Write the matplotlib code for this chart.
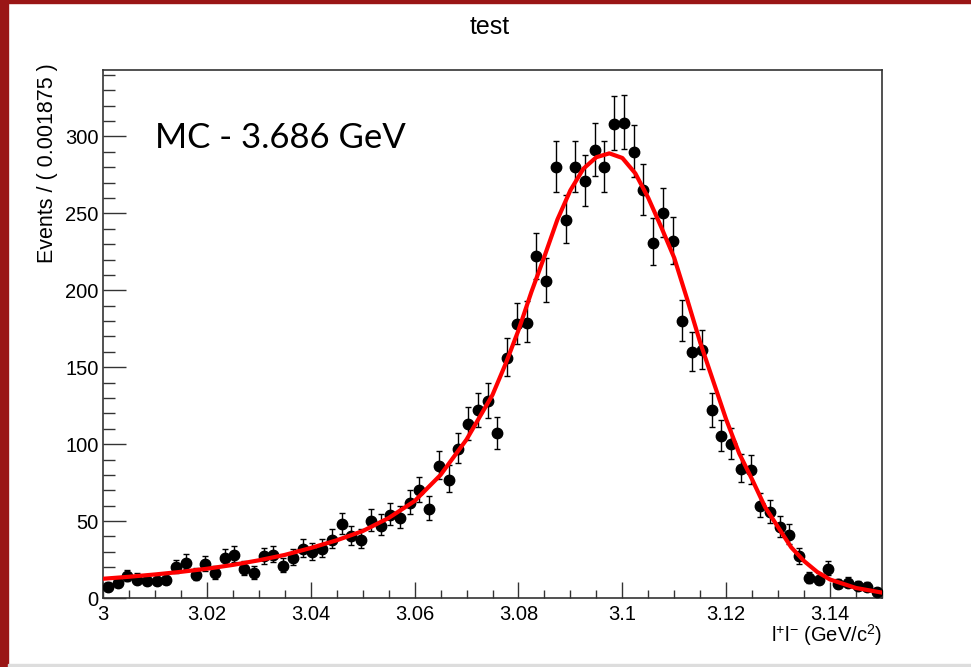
import numpy as np
import matplotlib
matplotlib.use('Agg')
import matplotlib.pyplot as plt
from matplotlib.ticker import MultipleLocator, FuncFormatter
from matplotlib.patches import Rectangle

###############################################################################

# Binning of the histogram (RooFit frame)
x_lo, x_hi, n_bins = 3.0, 3.15, 80

# Events per bin
counts = [7, 10, 14, 12, 11, 11, 12, 20, 23, 15,
          22, 16, 26, 28, 19, 16, 27, 28, 21, 26,
          32, 30, 32, 38, 48, 40, 38, 50, 47, 54,
          52, 62, 70, 58, 86, 77, 97, 113, 122, 128,
          107, 156, 178, 179, 222, 206, 280, 246, 280, 271,
          291, 280, 308, 309, 290, 265, 231, 250, 232, 180,
          160, 161, 122, 105, 100, 84, 83, 60, 56, 46,
          41, 27, 13, 12, 19, 9, 10, 8, 7, 4]

# Fit curve
fit_x = [3.000, 3.005, 3.010, 3.015, 3.020, 3.025, 3.030, 3.035, 3.040,
         3.045, 3.050, 3.055, 3.060, 3.065, 3.070, 3.075, 3.0775, 3.080,
         3.0825, 3.085, 3.0875, 3.090, 3.0925, 3.095, 3.0975, 3.100, 3.1025,
         3.105, 3.1075, 3.110, 3.1125, 3.115, 3.1175, 3.120, 3.1225, 3.125,
         3.1275, 3.130, 3.1325, 3.135, 3.1375, 3.140, 3.145, 3.150]
fit_y = [12.5, 13.8, 15.3, 17, 19, 21.5, 24.5, 28, 32.5,
         37.5, 43.5, 52, 63, 80, 103, 132, 152, 174,
         199, 222, 246, 265, 279, 286.5, 289, 286, 276,
         260, 241, 221, 194, 166, 141, 116, 94, 77,
         59, 46, 33, 24, 17, 12, 6.5, 3.5]

title = 'test'
ylabel = 'Events / ( 0.001875 )'
xlabel = r'l$^{+}$l$^{-}$ (GeV/c$^{2}$)'
note = 'MC - 3.686 GeV'

###############################################################################

if __name__ == '__main__':

    plt.rcParams['font.family'] = ['Liberation Sans', 'DejaVu Sans']
    plt.rcParams['mathtext.fontset'] = 'custom'
    plt.rcParams['mathtext.rm'] = 'Liberation Sans'
    plt.rcParams['mathtext.it'] = 'Liberation Sans'

    fig = plt.figure(figsize=(9.71, 6.67), dpi=100)
    ax = fig.add_axes([103 / 971, 1 - 598 / 667, 779 / 971, 528.5 / 667])

    # Bin centres and Poisson-style asymmetric errors
    edges = np.linspace(x_lo, x_hi, n_bins + 1)
    centres = 0.5 * (edges[:-1] + edges[1:])
    n = np.array(counts, dtype=float)
    err_lo = np.sqrt(n + 0.25) - 0.5
    err_hi = np.sqrt(n + 0.25) + 0.5

    ax.errorbar(centres, n, yerr=[err_lo, err_hi],
                fmt='o', color='k', ms=7.5, elinewidth=1.0,
                capsize=2.5, capthick=1.0, zorder=3)

    # Fit curve drawn on top
    ax.plot(fit_x, fit_y, color='#ff0000', lw=3, zorder=4)

    ax.set_xlim(x_lo, x_hi)
    ax.set_ylim(0, 343.5)

    # ROOT-like ticks: inside, left/bottom only
    ax.xaxis.set_major_locator(MultipleLocator(0.02))
    ax.xaxis.set_minor_locator(MultipleLocator(0.005))
    ax.yaxis.set_major_locator(MultipleLocator(50))
    ax.yaxis.set_minor_locator(MultipleLocator(10))
    ax.xaxis.set_major_formatter(FuncFormatter(lambda v, p: '%g' % round(v, 4)))
    ax.tick_params(axis='x', which='major', direction='in', length=11.5,
                   width=1, color='#333333', labelsize=14.5, pad=5)
    ax.tick_params(axis='x', which='minor', direction='in', length=5.8,
                   width=1, color='#333333')
    ax.tick_params(axis='y', which='major', direction='in', length=16.5,
                   width=1, color='#333333', labelsize=14.5, pad=3)
    ax.tick_params(axis='y', which='minor', direction='in', length=8.6,
                   width=1, color='#333333')
    for sp in ax.spines.values():
        sp.set_color('#333333')
        sp.set_linewidth(1.2)

    # Title and axis titles placed like the ROOT canvas
    fig.text(490 / 971, 1 - 27 / 667, title, ha='center', va='center',
             fontsize=18, family=['Liberation Sans Narrow', 'Liberation Sans'])
    fig.text(48 / 971, 1 - 63 / 667, ylabel, rotation=90, ha='center',
             va='top', fontsize=15.5)
    fig.text(882 / 971, 1 - 635 / 667, xlabel, ha='right', va='center',
             fontsize=14.5)

    # In-plot annotation
    ax.text((155 - 103) / 779, (597 - 147) / 528.5, note,
            transform=ax.transAxes, ha='left', va='baseline',
            fontsize=25, family=['Lato', 'DejaVu Sans'])

    # Dark red border strips of the screenshot
    fig.patches.append(Rectangle((0, 0), 8 / 971, 1, transform=fig.transFigure,
                                 color='#9a1515', zorder=10))
    fig.patches.append(Rectangle((0, 1 - 3 / 667), 1, 3 / 667,
                                 transform=fig.transFigure,
                                 color='#9a1515', zorder=10))
    fig.patches.append(Rectangle((8 / 971, 0), 1, 3 / 667,
                                 transform=fig.transFigure,
                                 color='#dddddd', zorder=10))

    fig.savefig('out.png', dpi=100)
